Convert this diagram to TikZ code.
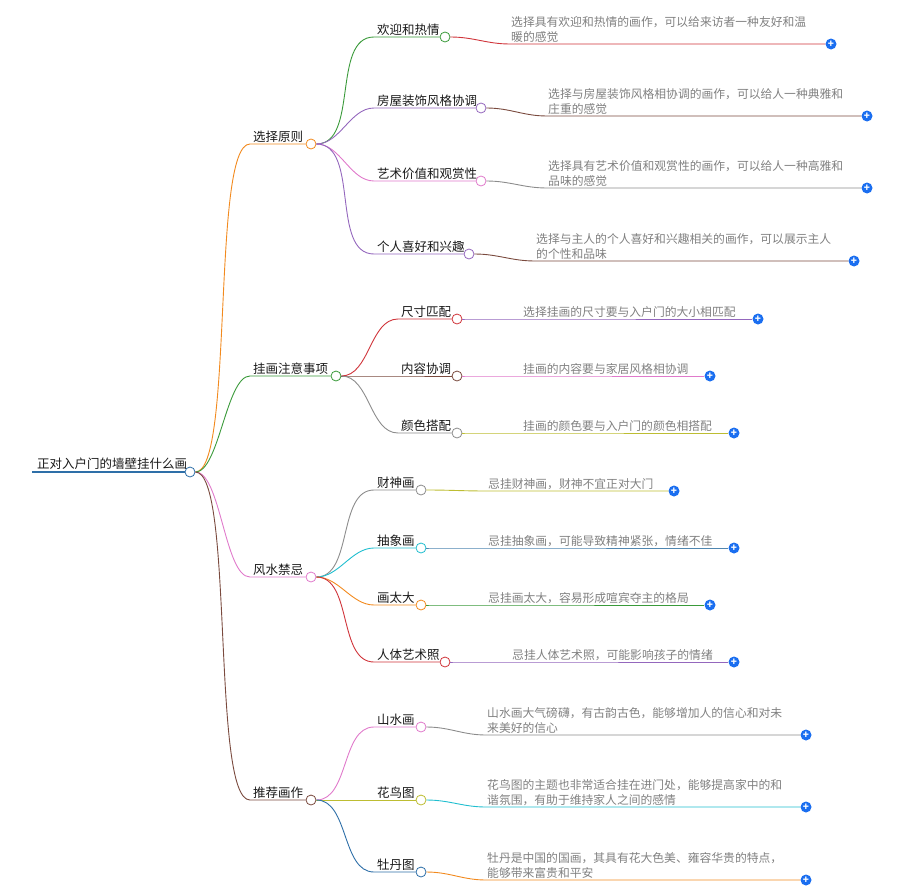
\documentclass[tikz,border=0pt]{standalone}
\usepackage{fontspec}
\setmainfont{Noto Sans CJK SC}
\definecolor{cOr}{HTML}{F28A1E}
\definecolor{cGr}{HTML}{3A9A3A}
\definecolor{cPk}{HTML}{E07ACB}
\definecolor{cBr}{HTML}{7A4A3E}
\definecolor{cPu}{HTML}{9467BD}
\definecolor{cRd}{HTML}{D0343A}
\definecolor{cGy}{HTML}{8C8C8C}
\definecolor{cOl}{HTML}{BDBD32}
\definecolor{cCy}{HTML}{20BECF}
\definecolor{cBl}{HTML}{2E6FA8}
\definecolor{cSb}{HTML}{4F86B0}
\definecolor{plusblue}{HTML}{1A6EF0}
\tikzset{
  dot/.style={circle,fill=white,line width=0.8pt,minimum size=10pt,inner sep=0pt},
  lab/.style={font=\fontsize{12.5}{14}\selectfont,text=black!90,inner sep=1pt},
  desc/.style={font=\fontsize{11.8}{15.5}\selectfont,text=black!50,inner sep=1pt,align=left},
  plusn/.style={circle,fill=plusblue,minimum size=11pt,inner sep=0pt,text=white,font=\bfseries\fontsize{10}{10}\selectfont},
  br/.style={line width=0.9pt},
}
\def\lsn{0.9}
% #1 name, #2 parent, #3 start x, #4 circle x, #5 y, #6 color, #7 text
\newcommand\mkkid[7]{%
  \coordinate (#1s) at (#3,#5);
  \node[dot,draw=#6] (#1) at (#4,#5) {};
  \node[lab,anchor=south west] (#1t) at (#3+2,#5) {#7};
  \draw[br,#6] (#2.east) to[out=0,in=180,looseness=\lsn] (#1s) -- (#1.west);
}
% #1 parent, #2 text x, #3 line y, #4 plus x, #5 color, #6 text
\newcommand\mkdesc[6]{%
  \coordinate (#1d) at (#2,#3);
  \node[plusn] (#1p) at (#4,#3) {+};
  \node[desc,anchor=south west] (#1x) at (#2,#3) {#6};
  \draw[br,#5] (#1.east) to[out=0,in=180] (#1d) -- (#1p.west);
}
\begin{document}
\begin{tikzpicture}[x=1pt,y=-1pt]
\useasboundingbox (0,0) rectangle (902,894);
% root
\node[dot,draw=cBl] (root) at (190,472) {};
\draw[line width=2.5pt,cBl] (32,472) -- (root.west);
\node[lab,anchor=south west] (roott) at (36,471) {正对入户门的墙壁挂什么画};
% level 1
\def\lsn{0.3}
\mkkid{a}{root}{250}{311}{144}{cOr}{选择原则}
\def\lsn{0.55}
\mkkid{b}{root}{250}{336}{376}{cGr}{挂画注意事项}
\mkkid{c}{root}{250}{311}{577}{cPk}{风水禁忌}
\def\lsn{0.3}
\mkkid{d}{root}{250}{311}{800}{cBr}{推荐画作}
\def\lsn{0.9}
% level 2
\mkkid{a1}{a}{374}{445}{37}{cGr}{欢迎和热情}
\mkkid{a2}{a}{374}{481}{108}{cPu}{房屋装饰风格协调}
\mkkid{a3}{a}{374}{481}{181}{cPk}{艺术价值和观赏性}
\mkkid{a4}{a}{374}{469}{254}{cPu}{个人喜好和兴趣}
\mkkid{b1}{b}{398}{457}{319}{cRd}{尺寸匹配}
\mkkid{b2}{b}{398}{457}{376}{cBr}{内容协调}
\mkkid{b3}{b}{398}{457}{433}{cGy}{颜色搭配}
\mkkid{c1}{c}{374}{421}{490}{cGy}{财神画}
\mkkid{c2}{c}{374}{421}{548}{cCy}{抽象画}
\mkkid{c3}{c}{374}{421}{605}{cOr}{画太大}
\mkkid{c4}{c}{374}{445}{662}{cRd}{人体艺术照}
\mkkid{d1}{d}{374}{421}{727}{cPk}{山水画}
\mkkid{d2}{d}{374}{421}{800}{cOl}{花鸟图}
\mkkid{d3}{d}{374}{421}{872}{cBl}{牡丹图}
% descriptions
\mkdesc{a1}{510}{44}{831}{cRd}{选择具有欢迎和热情的画作，可以给来访者一种友好和温\\暖的感觉}
\mkdesc{a2}{547}{116}{867}{cBr}{选择与房屋装饰风格相协调的画作，可以给人一种典雅和\\庄重的感觉}
\mkdesc{a3}{547}{188}{867}{cGy}{选择具有艺术价值和观赏性的画作，可以给人一种高雅和\\品味的感觉}
\mkdesc{a4}{535}{261}{854}{cBr}{选择与主人的个人喜好和兴趣相关的画作，可以展示主人\\的个性和品味}
\mkdesc{b1}{522}{319}{758}{cPu}{选择挂画的尺寸要与入户门的大小相匹配}
\mkdesc{b2}{522}{376}{710}{cPk}{挂画的内容要与家居风格相协调}
\mkdesc{b3}{522}{433}{734}{cOl}{挂画的颜色要与入户门的颜色相搭配}
\mkdesc{c1}{487}{491}{674}{cOl}{忌挂财神画，财神不宜正对大门}
\mkdesc{c2}{487}{548}{734}{cSb}{忌挂抽象画，可能导致精神紧张，情绪不佳}
\mkdesc{c3}{487}{605}{710}{cGr}{忌挂画太大，容易形成喧宾夺主的格局}
\mkdesc{c4}{511}{662}{734}{cPu}{忌挂人体艺术照，可能影响孩子的情绪}
\mkdesc{d1}{486}{735}{806}{cGy}{山水画大气磅礴，有古韵古色，能够增加人的信心和对未\\来美好的信心}
\mkdesc{d2}{486}{807}{806}{cCy}{花鸟图的主题也非常适合挂在进门处，能够提高家中的和\\谐氛围，有助于维持家人之间的感情}
\mkdesc{d3}{486}{880}{806}{cOr}{牡丹是中国的国画，其具有花大色美、雍容华贵的特点，\\能够带来富贵和平安}
\end{tikzpicture}
\end{document}
